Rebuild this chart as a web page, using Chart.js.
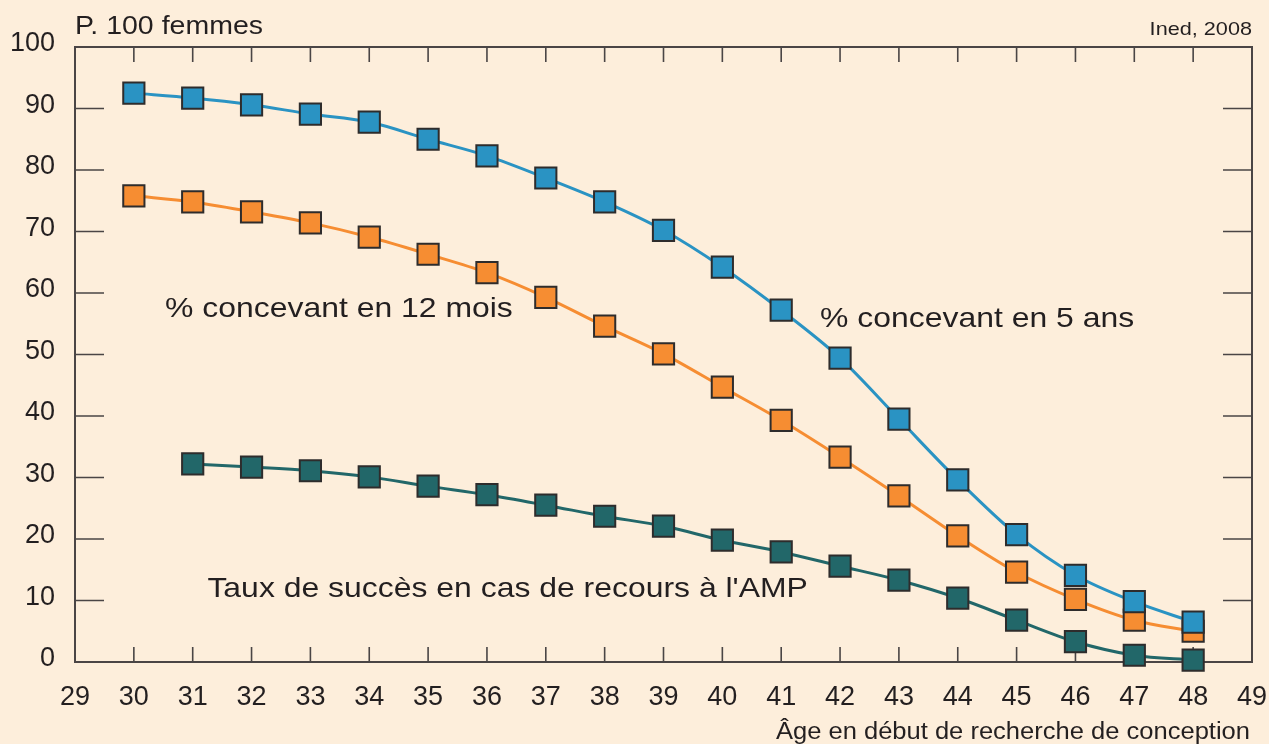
<!DOCTYPE html>
<html>
<head>
<meta charset="utf-8">
<script src="https://cdn.jsdelivr.net/npm/chart.js@4/dist/chart.umd.min.js"></script>
<style>
  html, body { margin: 0; padding: 0; background: #fdeedb; }
  #wrap { width: 1269px; height: 744px; }
</style>
</head>
<body>
<div id="wrap"><canvas id="chart" width="1269" height="744"></canvas></div>
<script>
// Âges (abscisse)
const ages = [30, 31, 32, 33, 34, 35, 36, 37, 38, 39, 40, 41, 42, 43, 44, 45, 46, 47, 48];

// % concevant en 5 ans
const cinqAns = [92.5, 91.7, 90.6, 89.1, 87.8, 85.0, 82.3, 78.7, 74.8, 70.2, 64.2, 57.2, 49.4, 39.5, 29.6, 20.7, 14.1, 9.8, 6.5];

// % concevant en 12 mois
const douzeMois = [75.8, 74.8, 73.2, 71.4, 69.1, 66.3, 63.3, 59.3, 54.6, 50.1, 44.7, 39.3, 33.3, 27.0, 20.5, 14.6, 10.2, 6.8, 5.0];

// Taux de succès AMP (pas de valeur à 30 ans)
const tauxAMP = [null, 32.2, 31.7, 31.1, 30.1, 28.6, 27.2, 25.5, 23.7, 22.1, 19.8, 17.9, 15.6, 13.3, 10.4, 6.8, 3.3, 1.1, 0.3];

// Graduations
const xTicks = [29, 30, 31, 32, 33, 34, 35, 36, 37, 38, 39, 40, 41, 42, 43, 44, 45, 46, 47, 48, 49];
const yTicks = [0, 10, 20, 30, 40, 50, 60, 70, 80, 90, 100];

const FONT = "'Liberation Sans', Arial, sans-serif";
const TEXT = "#231f20";
const AXE = "#4a4545";
const STRETCH = 1.14;

function points(values) {
  return ages.map((a, i) => ({ x: a, y: values[i] }));
}

function serie(label, values, color) {
  return {
    label: label,
    data: points(values),
    borderColor: color,
    backgroundColor: color,
    borderWidth: 3,
    pointStyle: "rect",
    pointRadius: 15,
    pointHoverRadius: 15,
    pointBackgroundColor: color,
    pointBorderColor: "#2e2c2c",
    pointBorderWidth: 2,
    cubicInterpolationMode: "monotone",
    spanGaps: false,
    clip: false,
  };
}

// Texte étiré horizontalement comme dans l'original
function drawText(ctx, str, x, y, size, align, stretch) {
  ctx.save();
  ctx.font = size + "px " + FONT;
  ctx.fillStyle = TEXT;
  ctx.textBaseline = "alphabetic";
  ctx.translate(x, y);
  ctx.scale(stretch || STRETCH, 1);
  const w = ctx.measureText(str).width;
  ctx.fillText(str, align === "right" ? -w : 0, 0);
  ctx.restore();
}

// Cadre, petites graduations internes
const cadre = {
  id: "cadre",
  beforeDatasetsDraw(chart) {
    const { ctx, chartArea: a, scales } = chart;
    ctx.save();
    ctx.strokeStyle = AXE;
    ctx.lineWidth = 2;
    ctx.strokeRect(a.left, a.top, a.right - a.left, a.bottom - a.top);
    ctx.lineWidth = 1.6;
    ctx.beginPath();
    xTicks.slice(1, -1).forEach((v) => {
      const px = scales.x.getPixelForValue(v);
      ctx.moveTo(px, a.bottom);
      ctx.lineTo(px, a.bottom - 15);
      ctx.moveTo(px, a.top);
      ctx.lineTo(px, a.top + 15);
    });
    yTicks.slice(1, -1).forEach((v) => {
      const py = scales.y.getPixelForValue(v);
      ctx.moveTo(a.left, py);
      ctx.lineTo(a.left + 29, py);
      ctx.moveTo(a.right, py);
      ctx.lineTo(a.right - 29, py);
    });
    ctx.stroke();
    ctx.restore();
  },
  afterDraw(chart) {
    const { ctx, chartArea: a, scales } = chart;
    const sx = scales.x, sy = scales.y;
    drawText(ctx, "P. 100 femmes", a.left, 34, 25, "left");
    drawText(ctx, "Ined, 2008", a.right, 35, 19, "right");
    drawText(ctx, "Âge en début de recherche de conception", a.right - 2, 739, 23, "right", 1.11);
    drawText(ctx, "% concevant en 12 mois", sx.getPixelForValue(30.53), sy.getPixelForValue(56.1), 28, "left");
    drawText(ctx, "% concevant en 5 ans", sx.getPixelForValue(41.66), sy.getPixelForValue(54.5), 28, "left");
    drawText(ctx, "Taux de succès en cas de recours à l'AMP", sx.getPixelForValue(31.25), sy.getPixelForValue(10.6), 28, "left");
  },
};

new Chart(document.getElementById("chart"), {
  type: "line",
  data: {
    datasets: [
      serie("% concevant en 5 ans", cinqAns, "#2a93c3"),
      serie("% concevant en 12 mois", douzeMois, "#f68d32"),
      serie("Taux de succès en cas de recours à l'AMP", tauxAMP, "#226769"),
    ],
  },
  options: {
    responsive: false,
    animation: false,
    events: [],
    layout: { padding: { top: 47, right: 14, left: 0, bottom: 0 } },
    plugins: {
      legend: { display: false },
      tooltip: { enabled: false },
    },
    scales: {
      x: {
        type: "linear",
        min: 29,
        max: 49,
        grid: { display: false, drawTicks: false },
        border: { display: false },
        afterFit: (scale) => {
          scale.height = 82;
          scale.paddingLeft = 0;
          scale.paddingRight = 0;
        },
        afterBuildTicks: (scale) => { scale.ticks = xTicks.map((v) => ({ value: v })); },
        ticks: {
          padding: 19,
          color: TEXT,
          font: { family: FONT, size: 27 },
          maxRotation: 0,
          autoSkip: false,
        },
      },
      y: {
        min: 0,
        max: 100,
        grid: { display: false, drawTicks: false },
        border: { display: false },
        afterFit: (scale) => {
          scale.width = 75;
          scale.paddingTop = 0;
          scale.paddingBottom = 0;
        },
        afterBuildTicks: (scale) => { scale.ticks = yTicks.map((v) => ({ value: v })); },
        ticks: {
          padding: 20,
          labelOffset: -3,
          color: TEXT,
          font: { family: FONT, size: 27 },
        },
      },
    },
  },
  plugins: [cadre],
});
</script>
</body>
</html>
